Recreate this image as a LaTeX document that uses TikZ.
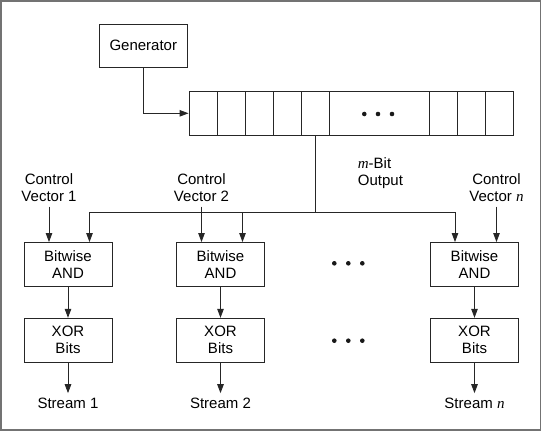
\documentclass[tikz,border=0pt]{standalone}
\usepackage{fontspec}
\setmainfont{Liberation Sans}
\newfontfamily\tmsit{Liberation Serif}
\usetikzlibrary{arrows.meta}
\newcommand{\itm}[1]{{\tmsit\itshape #1}}
\newcommand{\fsz}{\fontsize{15}{17}\selectfont}
\begin{document}
\begin{tikzpicture}[x=1pt,y=-1pt,
  ln/.style={line width=0.9pt, draw=black!85},
  arr/.style={ln, -{Triangle[length=9pt,width=6.5pt]}},
  box/.style={ln, rectangle, minimum width=88pt, minimum height=44pt, inner sep=0pt, align=center, font=\fsz},
  cell/.style={ln, rectangle, minimum width=28pt, minimum height=43.3pt, inner sep=0pt},
  lbl/.style={inner xsep=0pt, inner ysep=5pt, align=center, font=\fsz},
  dotn/.style={fill=black!90, circle, inner sep=0pt, minimum size=4.6pt}]
\useasboundingbox (0,0) rectangle (542,431);
\draw[line width=1.2pt, black!55] (1,1) rectangle (540.5,430);

% generator and register
\node[box, minimum height=42.7pt] (gen) at (143.3,45.7) {Generator};
\node[cell] (c1) at (203,113.3) {};
\node[cell] (c2) at (231,113.3) {};
\node[cell] (c3) at (259,113.3) {};
\node[cell] (c4) at (287,113.3) {};
\node[cell] (c5) at (315,113.3) {};
\node[cell, minimum width=100pt] (cw) at (379,113.3) {};
\node[cell] (c6) at (443,113.3) {};
\node[cell] (c7) at (471,113.3) {};
\node[cell] (c8) at (499,113.3) {};
\node[dotn] (rd1) at (364.3,114) {};
\node[dotn] (rd2) at (378,114) {};
\node[dotn] (rd3) at (392,114) {};
\draw[arr] (gen.south) |- (c1.west);

\node[lbl, align=left, anchor=west] (mbit) at (357.7,173) {\itm{m}-Bit\\Output};

% columns
\node[box] (and1) at (68,264.5) {Bitwise\\AND};
\node[box] (and2) at (220.5,264.5) {Bitwise\\AND};
\node[box] (andn) at (474.5,264.5) {Bitwise\\AND};
\node[box] (xor1) at (68,340.3) {XOR\\Bits};
\node[box] (xor2) at (220.5,340.3) {XOR\\Bits};
\node[box] (xorn) at (474.5,340.3) {XOR\\Bits};

\node[lbl] (cv1) at (49,187.5) {Control\\Vector 1};
\node[lbl] (cv2) at (201.5,187.5) {Control\\Vector 2};
\node[lbl] (cvn) at (496.5,187.5) {Control\\Vector \itm{n}};

\node[lbl] (s1) at (68,403.7) {Stream 1};
\node[lbl] (s2) at (220.5,403.7) {Stream 2};
\node[lbl] (sn) at (474.5,403.7) {Stream \itm{n}};

\node[dotn] (ma1) at (334.3,263.3) {};
\node[dotn] (ma2) at (348.3,263.3) {};
\node[dotn] (ma3) at (362.3,263.3) {};
\node[dotn] (mx1) at (334.3,340.7) {};
\node[dotn] (mx2) at (348.3,340.7) {};
\node[dotn] (mx3) at (362.3,340.7) {};

% bus
\coordinate (j) at (315,212);
\draw[ln] (c5.south) -- (j);
\draw[arr] (j) -| ([xshift=21.5pt]and1.north);
\draw[arr] (j) -| ([xshift=-19.5pt]andn.north);
\draw[arr] ([xshift=22pt]and2.north |- j) -- ([xshift=22pt]and2.north);

\draw[arr] (cv1.south) -- (cv1.south |- and1.north);
\draw[arr] (cv2.south) -- (cv2.south |- and2.north);
\draw[arr] (cvn.south) -- (cvn.south |- andn.north);

\draw[arr] (and1) -- (xor1);
\draw[arr] (and2) -- (xor2);
\draw[arr] (andn) -- (xorn);
\draw[arr] (xor1) -- (s1);
\draw[arr] (xor2) -- (s2);
\draw[arr] (xorn) -- (sn);
\end{tikzpicture}
\end{document}
